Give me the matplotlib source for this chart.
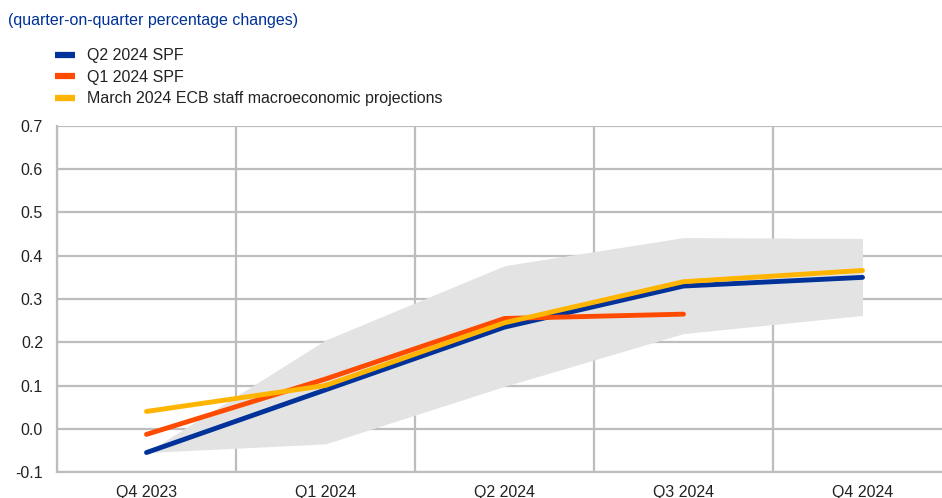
import matplotlib
matplotlib.use("Agg")
import matplotlib.pyplot as plt
from matplotlib.lines import Line2D
import numpy as np

plt.rcParams['font.family'] = ['Liberation Sans', 'DejaVu Sans']

categories = ["Q4 2023", "Q1 2024", "Q2 2024", "Q3 2024", "Q4 2024"]
spf_q2 = [-0.055, 0.09, 0.235, 0.33, 0.35]
spf_q1 = [-0.013, 0.115, 0.255, 0.265]
ecb_mar = [0.04, 0.10, 0.245, 0.34, 0.366]
band_low = [-0.055, -0.035, 0.098, 0.22, 0.262]
band_high = [-0.055, 0.205, 0.377, 0.442, 0.44]

title = "(quarter-on-quarter percentage changes)"
labels = ["Q2 2024 SPF", "Q1 2024 SPF", "March 2024 ECB staff macroeconomic projections"]
colors = ["#003299", "#ff4b00", "#ffb400"]

fs = 11.5
fig = plt.figure(figsize=(9.42, 4.98), dpi=100)
ax = fig.add_axes([57/942, 1-472/498, (952-57)/942, (472-126)/498])

x = np.arange(len(categories))
ax.fill_between(x, band_low, band_high, color="#e3e3e3", linewidth=0, zorder=1)
lw = 3.5
ax.plot(x, spf_q2, color=colors[0], lw=lw, solid_capstyle="round", zorder=3)
ax.plot(x[:len(spf_q1)], spf_q1, color=colors[1], lw=lw, solid_capstyle="round", zorder=4)
ax.plot(x, ecb_mar, color=colors[2], lw=lw, solid_capstyle="round", zorder=5)

ax.set_xlim(-0.5, len(categories) - 0.5)
ax.set_ylim(-0.1, 0.7)
yt = np.arange(-0.1, 0.71, 0.1)
ax.set_yticks(yt)
ax.set_yticklabels([f"{v:.1f}" for v in yt])
ax.set_xticks(x)
ax.set_xticklabels(categories)
ax.set_xticks(np.arange(-0.5, len(categories), 1.0), minor=True)
ax.grid(False)
ax.grid(True, axis="y", which="major", color="#bdbdbd", lw=1.6, zorder=0)
ax.grid(True, axis="x", which="minor", color="#bdbdbd", lw=1.6, zorder=0)
ax.set_axisbelow(True)
ax.tick_params(which="both", length=0, labelsize=fs, colors="#222222")
ax.tick_params(axis="x", pad=9)
ax.tick_params(axis="y", pad=10)
for s in ["top", "right"]:
    ax.spines[s].set_visible(False)
for s in ["left", "bottom"]:
    ax.spines[s].set_color("#bdbdbd")
    ax.spines[s].set_linewidth(1.6)

fig.text(8/942, 1-20/498, title, color="#003299", fontsize=fs, va="center", ha="left")

handles = [Line2D([0], [0], color=c, lw=4.5, solid_capstyle="butt") for c in colors]
fig.legend(handles, labels, loc="upper left", bbox_to_anchor=(49/942, 1-42/498),
           frameon=False, fontsize=fs, handlelength=1.2, handletextpad=0.75,
           labelspacing=0.4, borderaxespad=0, labelcolor="#222222")

fig.savefig("out.png", dpi=100)
